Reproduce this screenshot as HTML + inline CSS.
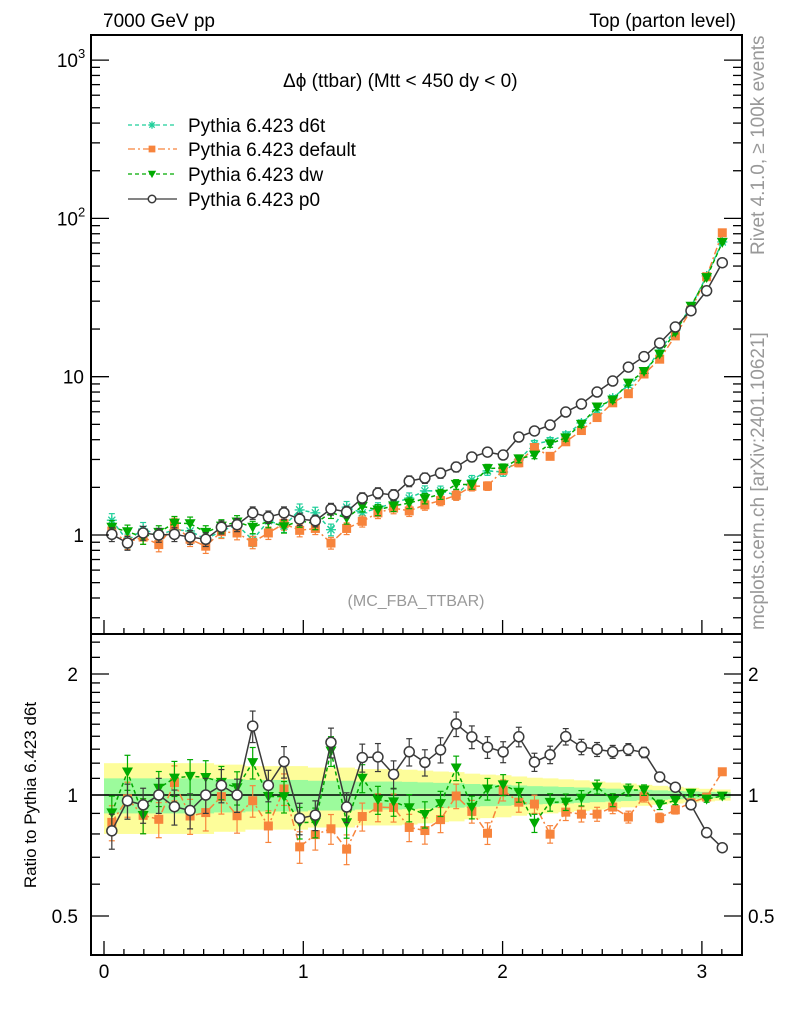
<!DOCTYPE html>
<html><head><meta charset="utf-8"><style>
html,body{margin:0;padding:0;background:#fff;}
svg{display:block;font-family:"Liberation Sans",sans-serif;}
</style></head><body>
<svg id="chart" width="786" height="1024" viewBox="0 0 786 1024" xmlns="http://www.w3.org/2000/svg">
<text x="103" y="27" font-size="19">7000 GeV pp</text>
<text x="736" y="27" font-size="19" text-anchor="end">Top (parton level)</text>
<text x="283" y="87" font-size="19">Δϕ (ttbar) (Mtt &lt; 450 dy &lt; 0)</text>
<text x="416" y="606" font-size="16" fill="#999" text-anchor="middle">(MC_FBA_TTBAR)</text>
<text transform="translate(764,255) rotate(-90)" font-size="19" fill="#999">Rivet 4.1.0, ≥ 100k events</text>
<text transform="translate(764,630) rotate(-90)" font-size="19" fill="#999">mcplots.cern.ch [arXiv:2401.10621]</text>
<text transform="translate(36,795) rotate(-90)" font-size="17" text-anchor="middle">Ratio to Pythia 6.423 d6t</text>
<defs>
<clipPath id="clipMain"><rect x="91" y="35" width="651" height="599"/></clipPath>
<clipPath id="clipRatio"><rect x="91" y="634" width="651" height="321"/></clipPath>
</defs>
<g id="bands" clip-path="url(#clipRatio)"></g>
<g id="marks"></g>
<g id="axes"></g>
<g id="legend"></g>
</svg>
<script>
const d6t = [1.24,0.92,1.09,1.00,1.08,1.06,0.94,1.06,1.16,0.93,1.23,1.14,1.44,1.38,1.08,1.50,1.38,1.48,1.59,1.71,1.90,1.90,1.79,2.23,2.54,2.50,2.98,3.76,3.93,4.28,5.10,6.16,7.33,8.86,10.5,14.7,19.7,27.6,43.3,71.0];
const deflt = [1.06,0.90,0.97,0.87,1.16,0.94,0.85,1.05,1.03,0.90,1.03,1.18,1.07,1.10,0.89,1.10,1.22,1.38,1.48,1.42,1.55,1.65,1.78,2.03,2.04,2.57,2.86,3.57,3.14,3.88,4.57,5.52,6.84,7.81,10.4,12.9,18.1,26.4,42.8,81.1];
const dw = [1.12,1.05,0.97,1.04,1.19,1.18,1.04,1.14,1.21,1.12,1.22,1.13,1.23,1.18,1.39,1.28,1.52,1.44,1.53,1.59,1.70,1.81,2.09,2.08,2.63,2.65,3.03,3.20,3.77,4.11,5.01,6.45,7.12,9.12,10.8,13.9,19.1,27.9,42.3,70.6];
const p0 = [1.01,0.89,1.03,1.00,1.01,0.97,0.94,1.12,1.16,1.38,1.30,1.38,1.26,1.23,1.46,1.40,1.71,1.84,1.79,2.19,2.29,2.46,2.69,3.11,3.34,3.20,4.16,4.54,4.95,5.98,6.72,8.00,9.39,11.5,13.4,16.3,20.6,26.1,34.9,52.5];
const relErr = [0.10,0.10,0.10,0.10,0.10,0.10,0.10,0.095,0.095,0.09,0.09,0.09,0.09,0.085,0.085,0.085,0.08,0.08,0.08,0.078,0.075,0.072,0.07,0.065,0.062,0.06,0.056,0.052,0.05,0.047,0.044,0.04,0.037,0.034,0.03,0.027,0.024,0.021,0.018,0.016];
const nBins = 40;
const xMax = Math.PI;
const xTickLabels = ["0","1","2","3"];
const ratioTickLabels = ["2","1","0.5"];
const ratioTickValues = [2,1,0.5];

const NS="http://www.w3.org/2000/svg";
function mk(tag,attrs,parent){const e=document.createElementNS(NS,tag);for(const k in attrs)e.setAttribute(k,attrs[k]);parent.appendChild(e);return e;}
const X = v => 104 + 199.3*v;
const YM = v => 535 - 158.3*Math.log10(v);
const YR = v => 795 - 402*Math.log10(v);
const bw = xMax/nBins;
const centers = d6t.map((_,i)=>(i+0.5)*bw);
const bandsG=document.getElementById('bands'), marksG=document.getElementById('marks'), axesG=document.getElementById('axes'), legG=document.getElementById('legend');

for(let i=0;i<nBins;i++){
  const x0=X(i*bw), x1=X((i+1)*bw), e=relErr[i];
  const y=mk('rect',{x:x0,y:YR(1+2*e),width:x1-x0+0.5,height:YR(1-2*e)-YR(1+2*e),fill:'#fdfd9a'},bandsG);
  
  
}
for(let i=0;i<nBins;i++){
  const x0=X(i*bw), x1=X((i+1)*bw), e=relErr[i];
  const g=mk('rect',{x:x0,y:YR(1+e),width:x1-x0+0.5,height:YR(1-e)-YR(1+e),fill:'#9cfb9c'},bandsG);
  
  
}
const one=mk('line',{x1:91,x2:742,y1:YR(1),y2:YR(1),stroke:'#000','stroke-width':1.5},bandsG);



function marker(kind,color,x,y,parent,s){
  s=s||1;
  if(kind==='star'){
    const g=mk('g',{stroke:color,'stroke-width':1.3},parent);
    for(let a=0;a<4;a++){const t=a*Math.PI/4,r=5*s;mk('line',{x1:x-r*Math.cos(t),y1:y-r*Math.sin(t),x2:x+r*Math.cos(t),y2:y+r*Math.sin(t)},g);}
    return g;
  } else if(kind==='square'){
    return mk('rect',{x:x-4.5*s,y:y-4.5*s,width:9*s,height:9*s,fill:color},parent);
  } else if(kind==='tri'){
    const r=5.5*s;
    return mk('polygon',{points:`${x-r},${y-r*0.8} ${x+r},${y-r*0.8} ${x},${y+r}`,fill:color},parent);
  } else {
    return mk('circle',{cx:x,cy:y,r:5*s,fill:'#fff',stroke:color,'stroke-width':1.5},parent);
  }
}

const series=[
  {name:'d6t',data:d6t,color:'#1fcf9a',kind:'star',dash:'4,3',label:'Pythia 6.423 d6t'},
  {name:'default',data:deflt,color:'#f7843c',kind:'square',dash:'7,3,2,3',label:'Pythia 6.423 default'},
  {name:'dw',data:dw,color:'#00aa00',kind:'tri',dash:'4,3',label:'Pythia 6.423 dw'},
  {name:'p0',data:p0,color:'#3a3a3a',kind:'circle',dash:null,label:'Pythia 6.423 p0'}
];

function drawSeries(s,Y,vals,errs,clip,panel){
  const g=mk('g',{'clip-path':clip},marksG);
  
  
  const pts=vals.map((v,i)=>X(centers[i])+','+Y(v)).join(' ');
  const attrs={points:pts,fill:'none',stroke:s.color,'stroke-width':1.5};
  if(s.dash)attrs['stroke-dasharray']=s.dash;
  const pl=mk('polyline',attrs,g);
  
  
  vals.forEach((v,i)=>{
    const x=X(centers[i]), e=errs[i];
    const eb=mk('g',{stroke:s.color,'stroke-width':1.2},g);
    
    
    const y1=Y(v*(1+e)), y2=Y(v*(1-e));
    mk('line',{x1:x,x2:x,y1:y1,y2:y2},eb);
    mk('line',{x1:x-3,x2:x+3,y1:y1,y2:y1},eb);
    mk('line',{x1:x-3,x2:x+3,y1:y2,y2:y2},eb);
    const m=marker(s.kind,s.color,x,Y(v),g);
    
    
  });
}
series.forEach(s=>drawSeries(s,YM,s.data,relErr,'url(#clipMain)','main'));
series.filter(s=>s.name!=='d6t').forEach(s=>{
  const r=s.data.map((v,i)=>v/d6t[i]);
  drawSeries(s,YR,r,relErr,'url(#clipRatio)','ratio');
});

const f1=mk('rect',{x:91,y:35,width:651,height:599,fill:'none',stroke:'#000','stroke-width':2},axesG);


const f2=mk('rect',{x:91,y:634,width:651,height:321,fill:'none',stroke:'#000','stroke-width':2},axesG);



[634,955].forEach(yb=>{
  for(let k=0;k<=31;k++){
    const v=k/10, x=X(v); if(x>742)break;
    const major=k%10===0, len=major?14:6;
    const t=mk('line',{x1:x,x2:x,y1:yb,y2:yb-len,stroke:'#000','stroke-width':1.3},axesG);
    
    
  }
});
xTickLabels.forEach((l,i)=>{
  const t=mk('text',{x:X(i),y:978,'font-size':19,'text-anchor':'middle'},axesG);
  t.textContent=l;
  
  
});
for(let d=-1;d<=3;d++){
  for(let m=1;m<=9;m++){
    const v=m*Math.pow(10,d), y=YM(v);
    if(y<35||y>634)continue;
    const len=m===1?18:9;
    [[91,91+len],[742,742-len]].forEach(([a,b])=>{
      const t=mk('line',{x1:a,x2:b,y1:y,y2:y,stroke:'#000','stroke-width':1.3},axesG);
      
      
    });
  }
}
const yl=[[1,'1',null],[10,'10',null],[100,'10','2'],[1000,'10','3']];
yl.forEach(([v,b,sup])=>{
  const t=mk('text',{x:sup?78:84,y:YM(v)+7,'font-size':19,'text-anchor':'end'},axesG);
  t.textContent=b;
  
  
  if(sup){const s=mk('text',{x:78,y:YM(v)-2,'font-size':13},axesG);s.textContent=sup;
    
    }
});
for(let m=4;m<=25;m++){
  const v=m/10; const y=YR(v); if(y<634||y>955)continue;
  if(m>20 && m%2===1)continue;
  const major=(m===5||m===10||m===20), len=major?18:9;
  [[91,91+len],[742,742-len]].forEach(([a,b])=>{
    const t=mk('line',{x1:a,x2:b,y1:y,y2:y,stroke:'#000','stroke-width':1.3},axesG);
    
    
  });
}
ratioTickValues.forEach((v,i)=>{
  const t=mk('text',{x:78,y:YR(v)+7,'font-size':19,'text-anchor':'end'},axesG);
  t.textContent=ratioTickLabels[i];
  
  
  const t2=mk('text',{x:748,y:YR(v)+7,'font-size':19},axesG);
  t2.textContent=ratioTickLabels[i];
  
  
});

const legY=[125,149,174,199];
series.forEach((s,i)=>{
  const g=mk('g',{},legG);
  
  
  const a={x1:128,x2:177,y1:legY[i],y2:legY[i],stroke:s.color,'stroke-width':1.3};
  if(s.dash)a['stroke-dasharray']=s.dash;
  mk('line',a,g);
  marker(s.kind,s.color,152,legY[i],g,0.75);
  const t=mk('text',{x:188,y:legY[i]+7,'font-size':19},g);
  t.textContent=s.label;
});
</script>
</body></html>
